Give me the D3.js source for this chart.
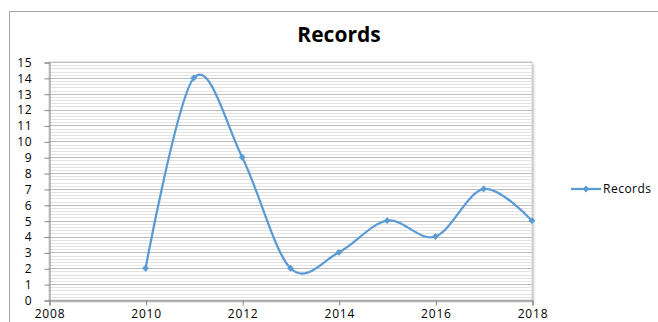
<!DOCTYPE html>
<html>
<head>
<meta charset="utf-8">
<script src="https://cdn.jsdelivr.net/npm/d3@7"></script>
<style>
  html, body { margin: 0; padding: 0; background: #fff; }
  svg { display: block; }
</style>
</head>
<body>
<svg id="chart" width="658" height="322"></svg>
<script>
// Yearly record counts
const years = [2010, 2011, 2012, 2013, 2014, 2015, 2016, 2017, 2018];
const records = [2, 14, 9, 2, 3, 5, 4, 7, 5];
const xTicks = [2008, 2010, 2012, 2014, 2016, 2018];
const yTicks = d3.range(0, 16);
const seriesName = "Records";

const svg = d3.select("#chart");
const plot = { left: 49, right: 532, top: 62, bottom: 300 };
const blue = "#5B9BD5";
const font = "'Open Sans', 'Liberation Sans', Arial, sans-serif";

const x = d3.scaleLinear().domain([2008, 2018]).range([plot.left, plot.right]);
const y = d3.scaleLinear().domain([0, 15]).range([plot.bottom, plot.top]);

// chart frame
svg.append("rect")
  .attr("x", 9.5).attr("y", 11.5)
  .attr("width", 660).attr("height", 330)
  .attr("fill", "#fff").attr("stroke", "#a6a6a6").attr("stroke-width", 1);

// title
svg.append("text")
  .attr("x", 339).attr("y", 42)
  .attr("text-anchor", "middle")
  .attr("font-family", font).attr("font-weight", "bold")
  .attr("font-size", 21).attr("fill", "#000")
  .text(seriesName);

// plot area shadow and background
const defs = svg.append("defs");
const f = defs.append("filter").attr("id", "soft").attr("x", "-5%").attr("y", "-5%").attr("width", "110%").attr("height", "110%");
f.append("feGaussianBlur").attr("stdDeviation", 1.2);
svg.append("rect")
  .attr("x", plot.left + 2).attr("y", plot.top + 2)
  .attr("width", plot.right - plot.left).attr("height", plot.bottom - plot.top)
  .attr("fill", "#c8c8c8").attr("filter", "url(#soft)");
svg.append("rect")
  .attr("x", plot.left).attr("y", plot.top)
  .attr("width", plot.right - plot.left).attr("height", plot.bottom - plot.top)
  .attr("fill", "#fff").attr("stroke", "#d0d0d0").attr("stroke-width", 1);

// minor gridlines
const minor = d3.range(0, 15.001, 0.2).filter(v => Math.abs(v - Math.round(v)) > 1e-6);
svg.append("g").selectAll("line").data(minor).join("line")
  .attr("x1", plot.left).attr("x2", plot.right)
  .attr("y1", d => Math.round(y(d)) + 0.5).attr("y2", d => Math.round(y(d)) + 0.5)
  .attr("stroke", "#e3e3e3").attr("stroke-width", 1);

// major gridlines
svg.append("g").selectAll("line").data(yTicks.slice(1)).join("line")
  .attr("x1", plot.left).attr("x2", plot.right)
  .attr("y1", d => Math.round(y(d)) + 0.5).attr("y2", d => Math.round(y(d)) + 0.5)
  .attr("stroke", "#bdbdbd").attr("stroke-width", 1);

// axes
const yAxis = d3.axisLeft(y).tickValues(yTicks).tickSize(5).tickPadding(12).tickFormat(d3.format("d"));
const gy = svg.append("g").attr("transform", `translate(${plot.left + 0.5},0.5)`).call(yAxis);
const xAxis = d3.axisBottom(x).tickValues(xTicks).tickSize(5).tickPadding(4).tickFormat(d3.format("d"));
const gx = svg.append("g").attr("transform", `translate(0.5,${plot.bottom + 0.5})`).call(xAxis);
[gx, gy].forEach(g => {
  g.select(".domain").attr("stroke", "#868686");
  g.selectAll(".tick line").attr("stroke", "#868686");
  g.selectAll(".tick text").attr("font-family", font).attr("font-size", 12)
    .attr("letter-spacing", 0.8).attr("fill", "#000");
});

// smoothed series line
const pts = years.map((yr, i) => [x(yr), y(records[i])]);
svg.append("path")
  .datum(pts)
  .attr("d", d3.line().curve(d3.curveCardinal.tension(0)))
  .attr("fill", "none").attr("stroke", blue).attr("stroke-width", 2.25);

// diamond markers
const diamond = d3.symbol().type(d3.symbolDiamond2).size(30);
svg.append("g").selectAll("path").data(pts).join("path")
  .attr("transform", d => `translate(${d[0]},${d[1]})`)
  .attr("d", diamond).attr("fill", blue);

// legend
const lg = svg.append("g").attr("transform", "translate(571,189)");
lg.append("line").attr("x1", 0).attr("x2", 30).attr("y1", 0).attr("y2", 0)
  .attr("stroke", blue).attr("stroke-width", 2.25);
lg.append("path").attr("transform", "translate(15,0)").attr("d", diamond).attr("fill", blue);
lg.append("text").attr("x", 32).attr("y", 4)
  .attr("font-family", font).attr("font-size", 12).attr("letter-spacing", 0.5).attr("fill", "#000")
  .text(seriesName);
</script>
</body>
</html>
